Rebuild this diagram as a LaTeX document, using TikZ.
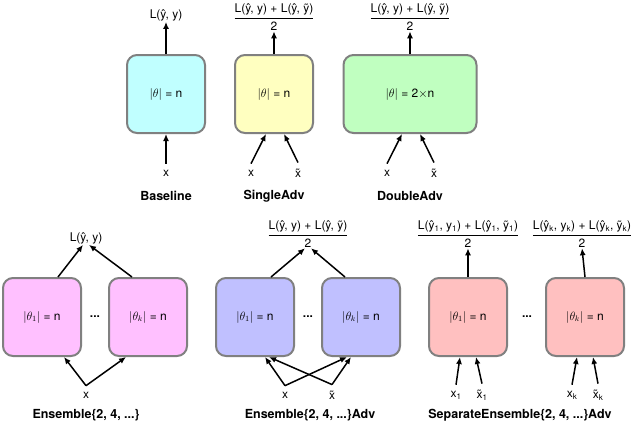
\documentclass[tikz,border=0pt]{standalone}
\usepackage{fontspec}
\usepackage{amsmath}
\setmainfont{TeX Gyre Heros}
\usetikzlibrary{arrows.meta}
\newcommand\fr[2]{$\genfrac{}{}{0.9pt}{0}{\text{#1}}{\text{#2}}$}
\newcommand\sub[1]{\textsubscript{#1}}
\begin{document}
\begin{tikzpicture}[x=1pt,y=-1pt,
  box/.style={draw=black!50,line width=2pt,rounded corners=10pt,minimum width=78pt,minimum height=78pt,font=\fontsize{12}{14}\selectfont},
  lbl/.style={font=\fontsize{12}{14}\selectfont,inner sep=1pt},
  ttl/.style={font=\bfseries\fontsize{12.5}{14}\selectfont},
  arr/.style={-{Latex[length=7pt,width=6pt]},line width=1.5pt},
  up/.style={yshift=5pt}]
\useasboundingbox (0,0) rectangle (640,426);
% top row
\node[box,fill={rgb,255:red,192;green,255;blue,255}] (b) at (166,94) {$|\theta|$ = n};
\node[box,fill={rgb,255:red,255;green,255;blue,192}] (s) at (274,94) {$|\theta|$ = n};
\node[box,fill={rgb,255:red,192;green,255;blue,192},minimum width=133pt] (d) at (410,94) {$|\theta|$ = 2$\times$n};
\node[lbl] (bo) at (166,15) {L(\^{y}, y)};
\node[lbl] (so) at (274,17) {\fr{L(\^{y}, y) + L(\^{y}, \~{y})}{2}};
\node[lbl] (do) at (410,17) {\fr{L(\^{y}, y) + L(\^{y}, \~{y})}{2}};
\draw[arr] (b.north) -- (bo.south);
\draw[arr] (s.north) -- (so.south);
\draw[arr] (d.north) -- (do.south);
\node[lbl] (bx) at (166,173) {x};
\node[lbl] (sx) at (251,173) {x};
\node[lbl] (sxt) at (298,173) {\~{x}};
\node[lbl] (dx) at (387,173) {x};
\node[lbl] (dxt) at (434,173) {\~{x}};
\draw[arr] ([up]bx.north) -- (b.south);
\draw[arr] ([up]sx.north) -- ([xshift=-8pt]s.south);
\draw[arr] ([up]sxt.north) -- ([xshift=10pt]s.south);
\draw[arr] ([up]dx.north) -- ([xshift=-8pt]d.south);
\draw[arr] ([up]dxt.north) -- ([xshift=10pt]d.south);
\node[ttl] at (166,196) {Baseline};
\node[ttl] at (274,196) {SingleAdv};
\node[ttl] at (410,196) {DoubleAdv};
% Ensemble
\node[box,fill={rgb,255:red,255;green,192;blue,255}] (e1) at (42,317) {$|\theta_1|$ = n};
\node[box,fill={rgb,255:red,255;green,192;blue,255}] (e2) at (148,317) {$|\theta_k|$ = n};
\node[lbl] at (95,317) {\textbf{...}};
\node[lbl] (eo) at (86,238) {L(\^{y}, y)};
\draw[arr] ([xshift=16pt]e1.north) -- ([xshift=-3pt]eo.south);
\draw[arr] ([xshift=-16pt]e2.north) -- ([xshift=3pt]eo.south);
\node[lbl] (ex) at (86,395) {x};
\draw[arr] ([up]ex.north) -- ([xshift=22pt]e1.south);
\draw[arr] ([up]ex.north) -- ([xshift=-22pt]e2.south);
\node[ttl] at (86,415) {Ensemble\{2, 4, ...\}};
% Ensemble Adv
\node[box,fill={rgb,255:red,192;green,192;blue,255}] (a1) at (255,317) {$|\theta_1|$ = n};
\node[box,fill={rgb,255:red,192;green,192;blue,255}] (a2) at (361,317) {$|\theta_k|$ = n};
\node[lbl] at (308,317) {\textbf{...}};
\node[lbl] (ao) at (308,234) {\fr{L(\^{y}, y) + L(\^{y}, \~{y})}{2}};
\draw[arr] ([xshift=16pt]a1.north) -- ([xshift=-3pt]ao.south);
\draw[arr] ([xshift=-16pt]a2.north) -- ([xshift=3pt]ao.south);
\node[lbl] (ax) at (285,395) {x};
\node[lbl] (axt) at (332,395) {\~{x}};
\draw[arr] ([up]ax.north) -- ([xshift=10pt]a1.south);
\draw[arr] ([up]ax.north) -- ([xshift=-14pt]a2.south);
\draw[arr] ([up]axt.north) -- ([xshift=14pt]a1.south);
\draw[arr] ([up]axt.north) -- ([xshift=-10pt]a2.south);
\node[ttl] at (310,415) {Ensemble\{2, 4, ...\}Adv};
% Separate
\node[box,fill={rgb,255:red,255;green,192;blue,192}] (p1) at (468,317) {$|\theta_1|$ = n};
\node[box,fill={rgb,255:red,255;green,192;blue,192}] (p2) at (585,317) {$|\theta_k|$ = n};
\node[lbl] at (527,317) {\textbf{...}};
\node[lbl] (po1) at (468,234) {\fr{L(\^{y}\sub{1}, y\sub{1}) + L(\^{y}\sub{1}, \~{y}\sub{1})}{2}};
\node[lbl] (po2) at (582,234) {\fr{L(\^{y}\sub{k}, y\sub{k}) + L(\^{y}\sub{k}, \~{y}\sub{k})}{2}};
\draw[arr] (p1.north) -- (po1.south);
\draw[arr] (p2.north) -- (po2.south);
\node[lbl] (px1) at (456,395) {x\sub{1}};
\node[lbl] (pxt1) at (482,395) {\~{x}\sub{1}};
\node[lbl] (pxk) at (572,395) {x\sub{k}};
\node[lbl] (pxtk) at (598,395) {\~{x}\sub{k}};
\draw[arr] ([up]px1.north) -- ([xshift=-8pt]p1.south);
\draw[arr] ([up]pxt1.north) -- ([xshift=8pt]p1.south);
\draw[arr] ([up]pxk.north) -- ([xshift=-8pt]p2.south);
\draw[arr] ([up]pxtk.north) -- ([xshift=8pt]p2.south);
\node[ttl] at (520,415) {SeparateEnsemble\{2, 4, ...\}Adv};
\end{tikzpicture}
\end{document}
